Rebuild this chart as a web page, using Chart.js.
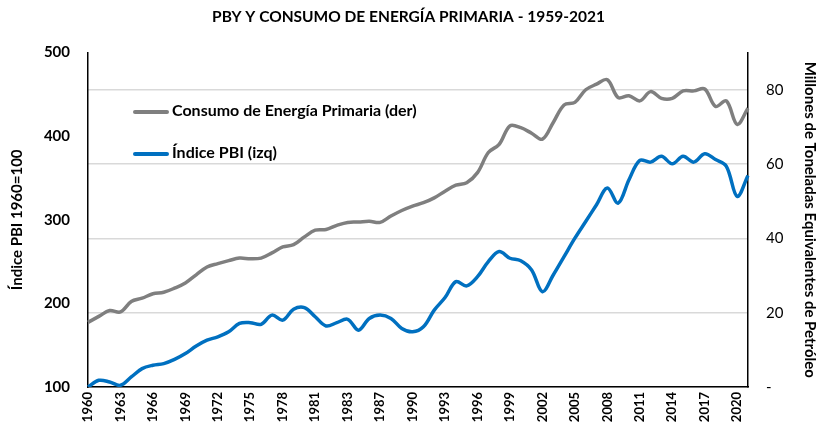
<!DOCTYPE html>
<html lang="es">
<head>
<meta charset="utf-8">
<title>PBY y Consumo de Energía Primaria</title>
<script src="https://cdn.jsdelivr.net/npm/chart.js@4.4.1/dist/chart.umd.min.js"></script>
<style>
  html, body { margin: 0; padding: 0; background: #fff; }
  #wrap { position: relative; width: 817px; height: 435px; }
  .key { position: absolute; left: 133px; font: bold 16px Lato, sans-serif; color: #000; white-space: nowrap; }
  .key i { display: inline-block; width: 36px; height: 4px; margin-right: 3px; vertical-align: middle; border-radius: 2px; }
</style>
</head>
<body>
<div id="wrap">
  <canvas id="chart" width="817" height="435"></canvas>
  <div class="key" style="top:100px"><i style="background:#7f7f7f"></i>Consumo de Energía Primaria (der)</div>
  <div class="key" style="top:142px"><i style="background:#0070c0"></i>Índice PBI (izq)</div>
</div>
<script>
  // one category per year, 1960-2021
  const categories = [
    1960, 1961, 1962, 1963, 1964, 1965, 1966, 1967, 1968, 1969,
    1970, 1971, 1972, 1973, 1974, 1975, 1976, 1977, 1978, 1979,
    1980, 1981, 1982, 1983, 1984, 1985, 1986, 1987, 1988, 1989,
    1990, 1991, 1992, 1993, 1994, 1995, 1996, 1997, 1998, 1999,
    2000, 2001, 2002, 2003, 2004, 2005, 2006, 2007, 2008, 2009,
    2010, 2011, 2012, 2013, 2014, 2015, 2016, 2017, 2018, 2019,
    2020, 2021
  ];

  // labels printed every third category, as in the original
  const tickLabels = [
    "1960", "1963", "1966", "1969", "1972", "1975", "1978", "1981", "1983", "1987",
    "1990", "1993", "1996", "1999", "2002", "2005", "2008", "2011", "2014", "2017", "2020"
  ];

  // Índice PBI, 1960 = 100 (left axis)
  const pbiIndex = [
    100, 108, 106, 102, 112, 122, 126, 128, 133, 140,
    149, 156, 160, 166, 176, 177, 175, 186, 180, 193,
    195, 184, 173, 177, 181, 168, 182, 186, 182, 170,
    166, 172, 192, 207, 226, 221, 232, 250, 262, 254,
    251, 240, 214, 234, 256, 278, 298, 318, 338, 320,
    348, 371, 369, 376, 367, 376, 369, 379, 372, 364,
    328, 353
  ];

  // Consumo de energía primaria, Mtep (right axis)
  const energyUse = [
    17.4, 19.0, 20.6, 20.2, 23.0, 23.9, 25.1, 25.5, 26.6, 28.0,
    30.2, 32.3, 33.2, 34.0, 34.7, 34.5, 34.7, 36.1, 37.7, 38.3,
    40.4, 42.2, 42.4, 43.5, 44.3, 44.4, 44.6, 44.3, 46.0, 47.5,
    48.7, 49.6, 50.9, 52.7, 54.3, 55.0, 57.7, 63.1, 65.3, 70.3,
    69.8, 68.3, 66.7, 71.2, 75.9, 76.6, 80.0, 81.5, 82.7, 77.9,
    78.4, 77.0, 79.5, 77.7, 77.7, 79.7, 79.7, 80.2, 75.5, 77.0,
    70.7, 75.0
  ];

  const FONT = "Lato";

  new Chart(document.getElementById("chart"), {
    type: "line",
    data: {
      labels: categories,
      datasets: [
        {
          label: "Consumo de Energía Primaria (der)",
          data: energyUse,
          yAxisID: "y1",
          borderColor: "#7f7f7f",
          borderWidth: 3.5,
          pointRadius: 0,
          tension: 0.35
        },
        {
          label: "Índice PBI (izq)",
          data: pbiIndex,
          yAxisID: "y",
          borderColor: "#0070c0",
          borderWidth: 3.5,
          pointRadius: 0,
          tension: 0.35
        }
      ]
    },
    options: {
      responsive: false,
      animation: false,
      layout: { padding: 0 },
      plugins: {
        legend: { display: false },
        tooltip: { enabled: false },
        title: {
          display: true,
          text: "PBY Y CONSUMO DE ENERGÍA PRIMARIA - 1959-2021",
          color: "#000",
          font: { family: FONT, size: 15.5, weight: "bold" },
          padding: { top: 8, bottom: 26 }
        }
      },
      scales: {
        x: {
          grid: { display: false, drawTicks: false },
          border: { color: "#000", width: 1.5 },
          ticks: {
            autoSkip: false,
            minRotation: 90,
            maxRotation: 90,
            padding: 5,
            color: "#000",
            font: { family: FONT, size: 13, weight: "bold" },
            callback: (v, i) => (i % 3 === 0 ? tickLabels[i / 3] : "")
          },
          afterFit: (s) => { s.height = 48; }
        },
        y: {
          position: "left",
          min: 100,
          max: 500,
          grid: { display: false, drawTicks: false },
          border: { color: "#000", width: 1.5 },
          ticks: {
            stepSize: 100,
            padding: 18,
            color: "#000",
            font: { family: FONT, size: 15, weight: "bold" }
          },
          title: {
            display: true,
            text: "Índice PBI 1960=100",
            color: "#000",
            font: { family: FONT, size: 15, weight: "bold", lineHeight: 1 },
            padding: { top: 10, bottom: 0 }
          },
          afterFit: (s) => { s.width = 88; }
        },
        y1: {
          position: "right",
          min: 0,
          max: 90,
          grid: { color: "#d9d9d9", lineWidth: 1.5, drawTicks: false },
          border: { color: "#000", width: 1.5 },
          ticks: {
            stepSize: 20,
            padding: 18,
            color: "#000",
            font: { family: FONT, size: 15 },
            callback: (v) => (v === 0 ? "-" : v)
          },
          afterBuildTicks: (s) => { s.ticks = s.ticks.filter((t) => t.value % 20 === 0); },
          title: {
            display: true,
            text: "Millones de Toneladas Equivalentes de Petróleo",
            color: "#000",
            font: { family: FONT, size: 15, weight: "bold", lineHeight: 0.9 },
            padding: { top: 0, bottom: 0 }
          },
          afterFit: (s) => { s.width = 69; }
        }
      }
    }
  });
</script>
</body>
</html>
